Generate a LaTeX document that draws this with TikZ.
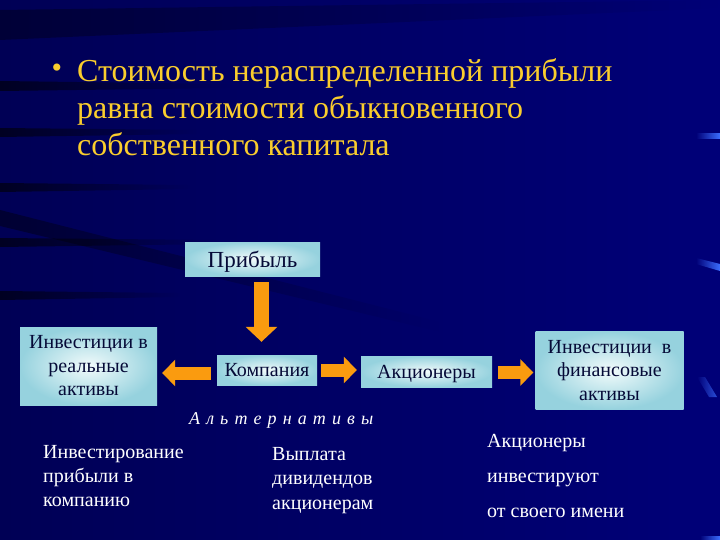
\documentclass[tikz,border=0pt]{standalone}
\usepackage{fontspec}
\setmainfont{Liberation Serif}
\usetikzlibrary{arrows.meta,fadings,calc}
\definecolor{bgL}{RGB}{0,0,85}
\definecolor{bgR}{RGB}{0,0,120}
\definecolor{titleY}{RGB}{250,205,45}
\definecolor{boxE}{RGB}{150,210,222}
\definecolor{boxM}{RGB}{242,251,251}
\definecolor{boxT}{RGB}{5,10,55}
\definecolor{arrO}{RGB}{250,155,15}
\definecolor{streakB}{RGB}{60,110,255}
\newcommand{\altspace}{\spaceskip=6.1pt\relax}
\tikzset{
  box/.style={draw=none, inner color=boxM, outer color=boxE,
    text=boxT, align=center, inner sep=0pt, font=\fontsize{20}{23.5}\selectfont},
  harrow/.style={draw=arrO, line width=13pt, -{Triangle[length=13pt,width=26pt]}},
  varrow/.style={draw=arrO, line width=15pt, -{Triangle[length=15pt,width=31pt]}},
  wtext/.style={text=white, align=left, inner sep=0pt, font=\fontsize{20}{24}\selectfont},
  dark/.style={fill=black, opacity=#1, path fading=east},
}
\begin{document}
\begin{tikzpicture}[x=1pt,y=-1pt]
\useasboundingbox (0,0) rectangle (720,540);
% background
\fill[left color=bgL, right color=bgR] (0,0) rectangle (720,540);
\fill[dark=.35] (0,10) -- (720,0) -- (720,8) -- (0,40) -- cycle;
\fill[dark=.6] (0,81) -- (230,84) -- (230,88) -- (0,91) -- cycle;
\fill[dark=.6] (0,128) -- (200,130) -- (200,134) -- (0,137) -- cycle;
\fill[dark=.6] (0,183) -- (190,185) -- (190,189) -- (0,192) -- cycle;
\fill[dark=.6] (0,238) -- (220,240) -- (220,244) -- (0,247) -- cycle;
\fill[dark=.6] (0,291) -- (180,293) -- (180,297) -- (0,300) -- cycle;
\fill[dark=.4] (0,210) -- (440,322) -- (440,332) -- (0,226) -- cycle;
\fill[streakB, path fading=west] (696,133) rectangle (720,139);
\fill[streakB, path fading=west] (696,258) -- (720,264) -- (720,271) -- (696,264) -- cycle;
\fill[streakB, opacity=.7, path fading=west] (697,377) -- (705,377) -- (717,397) -- (709,397) -- cycle;
\fill[streakB, path fading=west] (700,536) rectangle (720,540);
% title
\node[text=titleY, font=\fontsize{30}{37}\selectfont, anchor=base, inner sep=0pt] (bul) at (57,78) {•};
\node[text=titleY, font=\fontsize{32}{37}\selectfont, align=left, anchor=north west, inner sep=0pt] (title) at (77,58)
  {Стоимость нераспределенной прибыли\\равна стоимости обыкновенного\\собственного капитала};
% boxes
\node[box, minimum width=135pt, minimum height=34pt, text depth=0pt, font=\fontsize{23}{26}\selectfont] (prib) at (252.5,259) {Прибыль};
\node[box, minimum width=100pt, minimum height=30pt, text depth=0pt] (komp) at (267,370) {Компания};
\node[box, minimum width=131pt, minimum height=31pt, text depth=0pt] (akc) at (426.5,371.5) {Акционеры};
\node[box, minimum width=137pt, minimum height=78pt] (inv1) at (88.5,366) {Инвестиции в\\реальные\\активы};
\node[box, minimum width=148pt, minimum height=78pt] (inv2) at (609.5,370.5) {Инвестиции\ \ в\\финансовые\\активы};
% arrows
\draw[varrow, shorten <=6pt, shorten >=13pt] (prib.south -| 261.5,0) coordinate (pa) -- (komp.north -| pa);
\draw[harrow, shorten <=6pt, shorten >=5pt] ($(komp.west)+(0,3)$) coordinate (ka) -- (inv1.east |- ka);
\draw[harrow, shorten <=4pt, shorten >=4pt] (komp.east) -- (akc.west |- komp.east);
\draw[harrow, shorten <=6pt, shorten >=2pt] ($(akc.east)+(0,1)$) coordinate (aa) -- (inv2.west |- aa);
% alternatives
\node[text=white, inner sep=0pt, anchor=base west, font=\itshape\fontsize{18}{20}\selectfont] (alt) at (189,424) {\altspace А л ь т е р н а т и в ы};
\node[wtext, anchor=north west] (c1) at (43,445) {Инвестирование\\прибыли в\\компанию};
\node[wtext, anchor=north west, font=\fontsize{20}{24.5}\selectfont] (c2) at (272,447) {Выплата\\дивидендов\\акционерам};
\node[wtext, anchor=north west, font=\fontsize{20}{35}\selectfont] (c3) at (487,434) {Акционеры\\инвестируют\\от своего имени};
\end{tikzpicture}
\end{document}
